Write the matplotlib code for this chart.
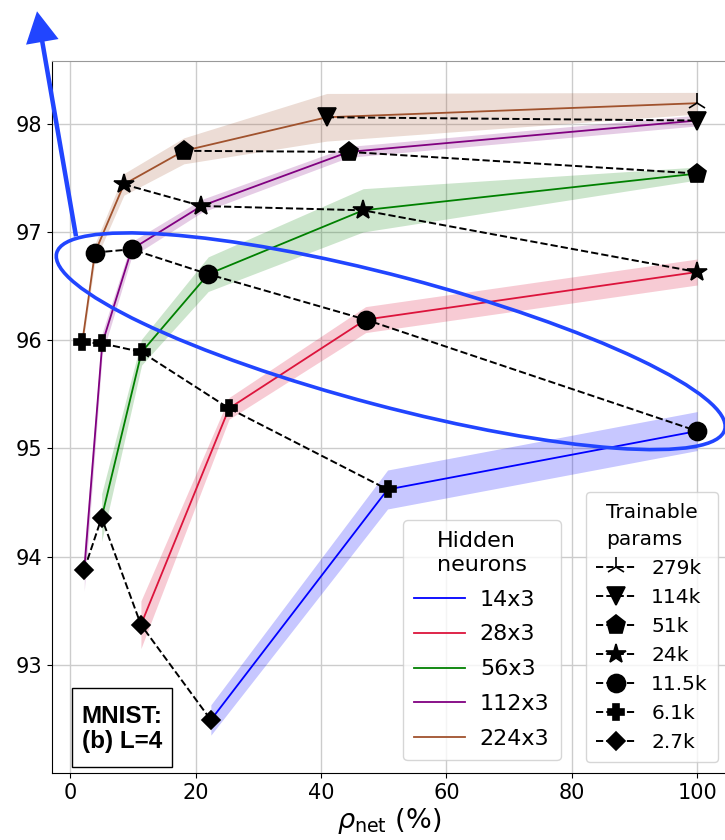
import matplotlib
matplotlib.use('Agg')
import matplotlib.pyplot as plt
import matplotlib.transforms as mtransforms
from matplotlib.patches import Ellipse, FancyArrow, Rectangle

# hidden layer widths and their colours
widths = ['14x3', '28x3', '56x3', '112x3', '224x3']
colors = ['blue', 'crimson', 'green', 'purple', 'sienna']
band_alpha = [0.22, 0.22, 0.2, 0.2, 0.2]

# trainable parameter counts, smallest first
params = ['2.7k', '6.1k', '11.5k', '24k', '51k', '114k', '279k']
markers = ['D', 'P', 'o', '*', 'p', 'v', '2']
msizes = [9.5, 12, 13, 15, 14, 13, 15]

# index into params of the first point of every width
first_param = [0, 0, 0, 0, 1]

# rho_net (%), test accuracy (%) and spread for every width
rho_14 = [22.4, 50.6, 100]
acc_14 = [92.49, 94.62, 95.16]
err_14 = [0.14, 0.18, 0.18]

rho_28 = [11.24, 25.3, 47.1, 100]
acc_28 = [93.37, 95.37, 96.19, 96.63]
err_28 = [0.22, 0.10, 0.12, 0.12]

rho_56 = [4.97, 11.35, 21.98, 46.7, 100]
acc_56 = [94.36, 95.89, 96.61, 97.2, 97.54]
err_56 = [0.22, 0.12, 0.16, 0.2, 0.06]

rho_112 = [2.2, 5.07, 9.76, 20.9, 44.4, 100]
acc_112 = [93.88, 95.97, 96.84, 97.24, 97.74, 98.03]
err_112 = [0.2, 0.1, 0.07, 0.06, 0.05, 0.05]

rho_224 = [1.88, 3.9, 8.53, 18.1, 40.9, 100]
acc_224 = [95.98, 96.81, 97.44, 97.75, 98.06, 98.19]
err_224 = [0.05, 0.08, 0.1, 0.12, 0.22, 0.1]

rhos = [rho_14, rho_28, rho_56, rho_112, rho_224]
accs = [acc_14, acc_28, acc_56, acc_112, acc_224]
errs = [err_14, err_28, err_56, err_112, err_224]

fig = plt.figure(figsize=(7.25, 8.4), dpi=100)
ax = fig.add_axes([52 / 725, 67 / 840, 674 / 725, 712 / 840])

# one solid line with a shaded band per width
width_handles = []
for s in range(len(widths)):
    lo = [a - e for a, e in zip(accs[s], errs[s])]
    hi = [a + e for a, e in zip(accs[s], errs[s])]
    ax.fill_between(rhos[s], lo, hi, color=colors[s], alpha=band_alpha[s], lw=0, zorder=1)
    ln, = ax.plot(rhos[s], accs[s], color=colors[s], lw=1.3, zorder=2)
    width_handles.append(ln)

# dashed black lines joining networks with the same parameter count
param_handles = []
for j in range(len(params)):
    pts = []
    for s in range(len(widths)):
        i = j - first_param[s]
        if 0 <= i < len(rhos[s]):
            pts.append((rhos[s][i], accs[s][i]))
    pts.sort()
    xs = [p[0] for p in pts]
    ys = [p[1] for p in pts]
    ln, = ax.plot(xs, ys, '--', color='k', lw=1.4, marker=markers[j], ms=msizes[j],
                  mfc='k', mec='k', mew=1.2, zorder=3)
    param_handles.append(ln)

ax.set_xlim(-2.95, 104.6)
ax.set_ylim(92.0, 98.58)
ax.set_xticks([0, 20, 40, 60, 80, 100])
ax.set_yticks([93, 94, 95, 96, 97, 98])
ax.tick_params(labelsize=15)
ax.grid(True, color='#cccccc', lw=1.0)
ax.set_axisbelow(True)
ax.spines['top'].set_color('#999999')
ax.set_xlabel(r'$\rho_{\mathrm{net}}$ (%)', fontsize=19.5, labelpad=2)

leg1 = ax.legend(width_handles, widths, title='Hidden\nneurons', loc='lower left',
                 bbox_to_anchor=(0.521, 0.018), borderaxespad=0, fontsize=16,
                 title_fontsize=16, handlelength=2.3, labelspacing=0.67, borderpad=0.5,
                 handletextpad=0.65)
ax.add_artist(leg1)
leg2 = ax.legend(param_handles[::-1], params[::-1], title='Trainable\nparams', loc='lower left',
                 bbox_to_anchor=(0.792, 0.015), borderaxespad=0, fontsize=14.5,
                 title_fontsize=14.5, handlelength=2.0, handletextpad=0.75, borderpad=0.5)
leg2.get_title().set_linespacing(1.55)

# dataset / depth label in a plain box
ax.add_patch(Rectangle((0.029, 0.0084), 0.1495, 0.111, transform=ax.transAxes,
                       fc='white', ec='k', lw=1.0, zorder=5))
ax.text(0.104, 0.062, 'MNIST:\n(b) L=4', transform=ax.transAxes, ha='center', va='center',
        multialignment='center', fontsize=17.5, fontweight='bold', family='Liberation Sans',
        linespacing=1.15, zorder=6)

# blue highlight: ellipse round the 11.5k points, arrow pointing up
hl = '#2145ff'
ell_trans = fig.dpi_scale_trans + mtransforms.ScaledTranslation(51.1, 95.99, ax.transData)
ax.add_patch(Ellipse((0, 0), 6.91, 1.30, angle=-14.8, transform=ell_trans, fill=False,
                     ec=hl, lw=2.6, zorder=6, clip_on=False))
arr_trans = fig.dpi_scale_trans + mtransforms.ScaledTranslation(0.88, 96.96, ax.transData)
ax.add_patch(FancyArrow(0, 0, -0.39, 2.25, width=0.045, head_width=0.33, head_length=0.31,
                        length_includes_head=True, transform=arr_trans, color=hl, lw=0,
                        zorder=6, clip_on=False))

fig.savefig('out.png', dpi=100)
